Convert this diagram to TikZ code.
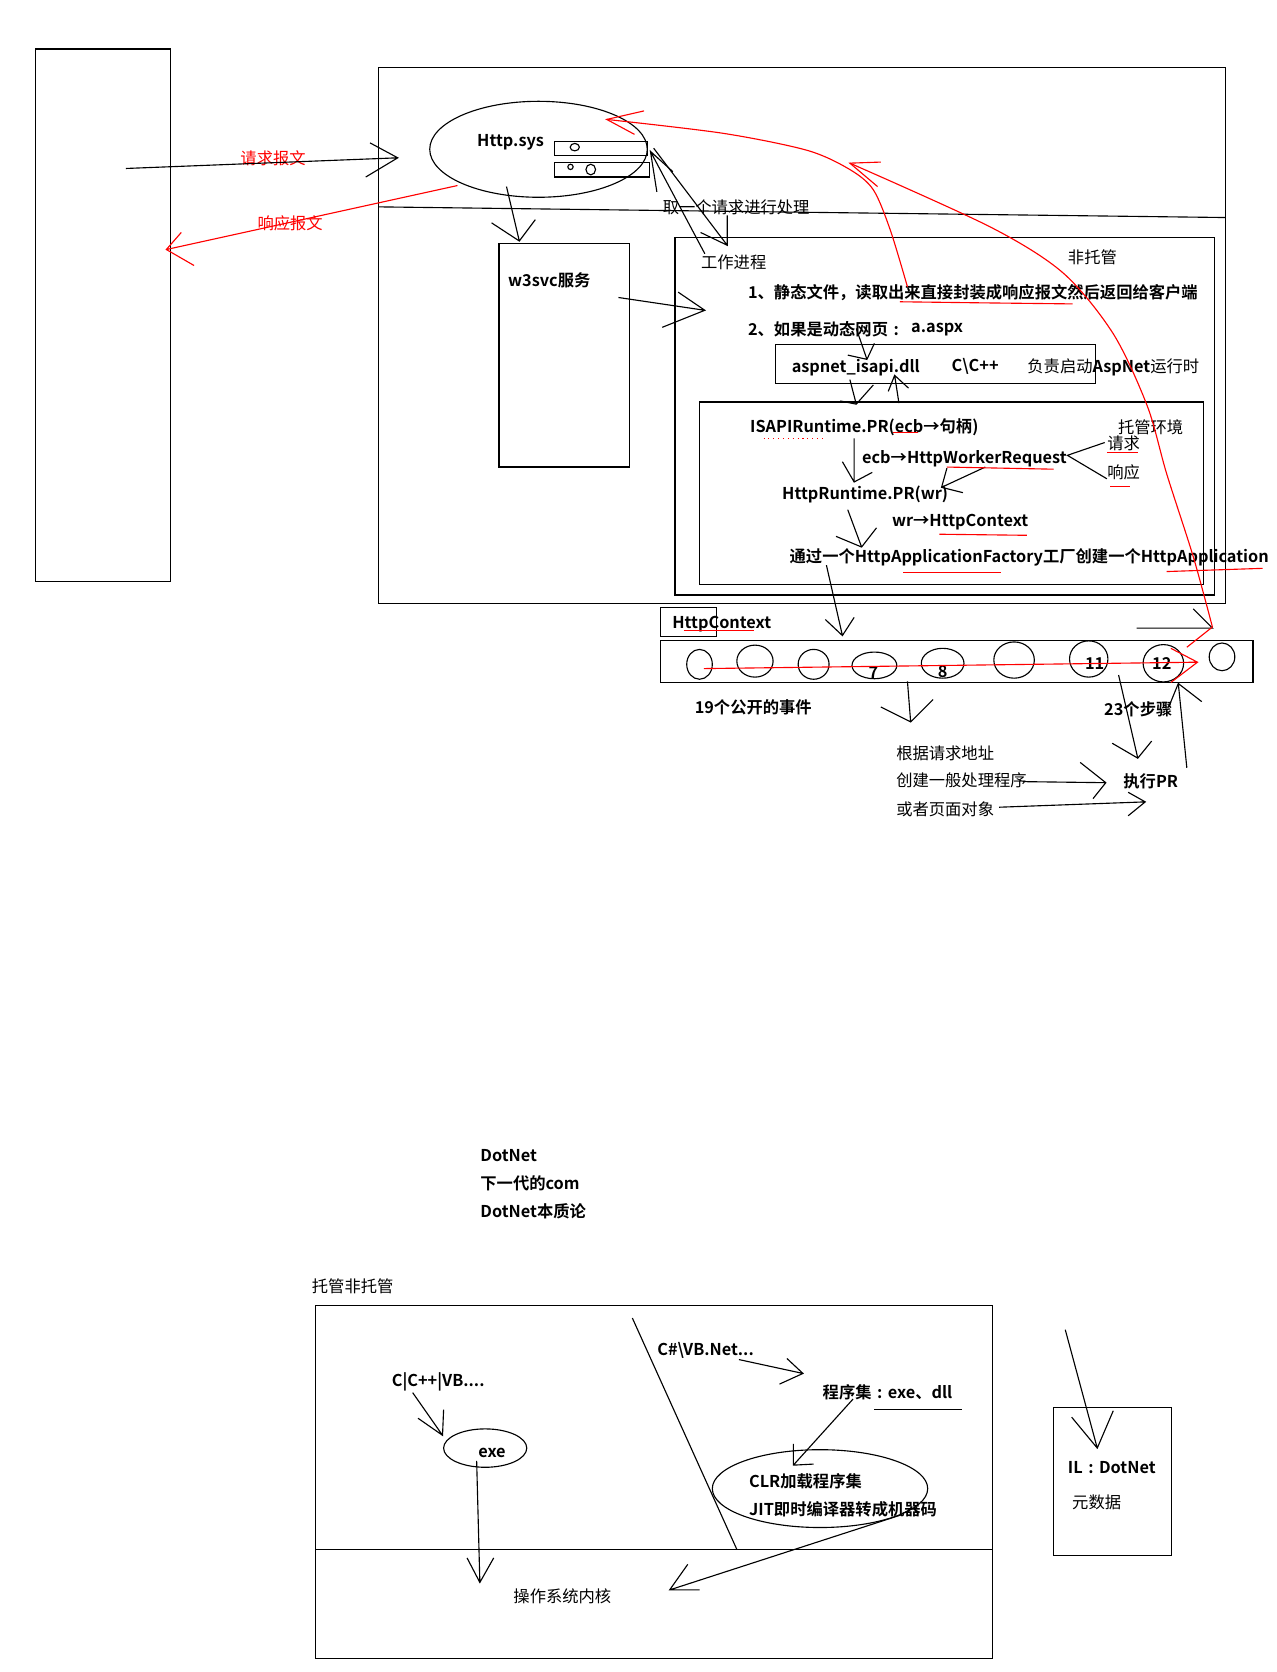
\documentclass[tikz,border=0pt]{standalone}
\usepackage{fontspec}
\setmainfont{Noto Sans CJK SC}[BoldFont={Noto Sans CJK SC Bold}]

\begin{document}
\begin{tikzpicture}[x=0.02cm,y=-0.02cm,line width=0.6pt]
\useasboundingbox (0,0) rectangle (1197,1568);

        % boxes of the request pipeline
        \draw (33,46) rectangle (160,545);
        \draw (355,63) rectangle (1149,566);
        \draw (355,194) -- (590,197) -- (1149,204);
        \draw (505,140) ellipse (102 and 45);
        \draw (520,133) rectangle (607,146);
        \draw (520,152) rectangle (609,166);
        \draw (539,138) ellipse (4.3 and 3.5);
        \draw (535,156.5) circle (2.5);
        \draw (554,159) ellipse (4.5 and 5);
        \draw (468,228) rectangle (590,438);
        \draw (633,223) rectangle (1139,558);
        \draw (727,323) rectangle (1027,360);
        \draw (656,377) rectangle (1129,548);
        \draw (619,570) rectangle (672,597);
        \draw (619,601) rectangle (1175,640);

        % the events
        \draw (656,623) ellipse (12 and 14);
        \draw (708,620) ellipse (17 and 15);
        \draw (763,623) ellipse (14.5 and 14);
        \draw (820,624) ellipse (21 and 12.5);
        \draw (884,622) ellipse (20 and 14);
        \draw (951,619) ellipse (19 and 17);
        \draw (1021,618) ellipse (18 and 17);
        \draw (1091,622) ellipse (19 and 17.5);
        \draw (1146,616) ellipse (12 and 13);

        \begin{scope}[every node/.style={inner sep=0pt,anchor=west,font=\fontsize{8.7}{10}\selectfont\bfseries}]
          \node (httpsys)  at (447,133)  {Http.sys};
          \node (w3svc)    at (476,263)  {w3svc服务};
          \node (static)   at (701,274)  {1、静态文件，读取出来直接封装成响应报文然后返回给客户端};
          \node (dynamic)  at (701,309)  {2、如果是动态网页\makebox[1em]{:}};
          \node (aspx)     at (854,309)  {a.aspx};
          \node (isapidll) at (742,345)  {aspnet\_isapi.dll};
          \node (cpp)      at (892,344)  {C\textbackslash C++};
          \node (startrt)  at (963,345)  {\mdseries 负责启动\bfseries AspNet\mdseries 运行时};
          \node (isapirt)  at (703,401)  {ISAPIRuntime.PR(ecb→句柄)};
          \node (wreq)     at (808,430)  {ecb→HttpWorkerRequest};
          \node (httprt)   at (733,464)  {HttpRuntime.PR(wr)};
          \node (wrctx)    at (836,490)  {wr→HttpContext};
          \node (factory)  at (740,523)  {通过一个HttpApplicationFactory工厂创建一个HttpApplication};
          \node (ctx)      at (630,585)  {HttpContext};
          \node (seven)    at (814,631)  {7};
          \node (eight)    at (879,630)  {8};
          \node (eleven)   at (1017,622) {11};
          \node (twelve)   at (1080,622) {12};
          \node (events)   at (651,663)  {19个公开的事件};
          \node (steps)    at (1035,665) {23个步骤};
          \node (exec)     at (1053,733) {执行PR};
          \node (dn1)      at (450,1084) {DotNet};
          \node (dn2)      at (450,1110) {下一代的com};
          \node (dn3)      at (450,1136) {DotNet本质论};
          \node (clang)    at (367,1296) {C|C++|VB....};
          \node (exe)      at (448,1363) {exe};
          \node (csharp)   at (616,1266) {C\#\textbackslash VB.Net...};
          \node (asm)      at (771,1306) {程序集\makebox[1em]{:}exe、dll};
          \node (clrload)  at (702,1389) {CLR加载程序集};
          \node (jit)      at (702,1415) {JIT即时编译器转成机器码};
          \node (il)       at (1001,1376) {IL\makebox[1em]{:}DotNet};
        \end{scope}

        \begin{scope}[every node/.style={inner sep=0pt,anchor=west,font=\fontsize{8.7}{10}\selectfont}]
          \node (take)    at (621,194)  {取一个请求进行处理};
          \node (work)    at (657,246)  {工作进程};
          \node (unman)   at (1001,241) {非托管};
          \node (manenv)  at (1048,401) {托管环境};
          \node (reqw)    at (1038,416) {请求};
          \node (respw)   at (1038,443) {响应};
          \node (addr)    at (840,706)  {根据请求地址};
          \node (handler) at (840,732)  {创建一般处理程序};
          \node (page)    at (840,759)  {或者页面对象};
          \node (mgd)     at (292,1206) {托管非托管};
          \node (os)      at (481,1497) {操作系统内核};
          \node (meta)    at (1005,1409) {元数据};
          \node[text=red] (reqmsg)  at (225,148) {请求报文};
          \node[text=red] (respmsg) at (241,209) {响应报文};
        \end{scope}

        % hand drawn arrows
        \coordinate (a1) at (118,158);   \coordinate (h1) at (373,148);
        \coordinate (a3) at (475,175);   \coordinate (h3) at (487,226);
        \coordinate (a4) at (613,139);   \coordinate (h4) at (682,230);
        \coordinate (a5) at (661,238);   \coordinate (h5) at (610,142);
        \coordinate (a6) at (580,279);   \coordinate (h6) at (661,291);
        \coordinate (a7) at (803,308);   \coordinate (h7) at (813,337);
        \coordinate (a8) at (797,356);   \coordinate (h8) at (803,379);
        \coordinate (a9) at (843,378);   \coordinate (h9) at (839,352);
        \coordinate (a10) at (801,411);  \coordinate (h10) at (801,452);
        \coordinate (a11) at (924,438);  \coordinate (h11) at (883,457);
        \coordinate (a12) at (795,478);  \coordinate (h12) at (808,513);
        \coordinate (a13) at (775,530);  \coordinate (h13) at (790,596);
        \coordinate (a14) at (851,639);  \coordinate (h14) at (854,677);
        \coordinate (a15) at (1049,633); \coordinate (h15) at (1067,711);
        \coordinate (a16) at (1113,720); \coordinate (h16) at (1105,641);
        \coordinate (a17) at (959,733);  \coordinate (h17) at (1037,734);
        \coordinate (a18) at (937,757);  \coordinate (h18) at (1074,752);
        \coordinate (a19) at (1066,589); \coordinate (h19) at (1137,589);
        \coordinate (a20) at (387,1306); \coordinate (h20) at (415,1346);
        \coordinate (a21) at (447,1370); \coordinate (h21) at (450,1484);
        \coordinate (a22) at (693,1275); \coordinate (h22) at (753,1288);
        \coordinate (a23) at (800,1312); \coordinate (h23) at (744,1374);
        \coordinate (a24) at (844,1421); \coordinate (h24) at (628,1491);
        \coordinate (a25) at (999,1247); \coordinate (h25) at (1029,1358);
        \coordinate (fork) at (1001,427);
        \coordinate (forkup) at (1036,415);
        \coordinate (forkdown) at (1038,449);

        \draw (a1) -- (h1) ++(-26,-14) -- (h1) -- ++(-30,18);
        \draw (a3) -- (h3) ++(-26,-17) -- (h3) -- ++(15,-20);
        \draw (a4) -- (h4) ++(0,-28) -- (h4) -- ++(-25,-12);
        \draw (a5) -- (h5) ++(6,38) -- (h5) -- ++(21,19);
        \draw (a6) -- (h6) ++(-25,-17) -- (h6) -- ++(-40,16);
        \draw (a7) -- (h7) ++(-18,-4) -- (h7) -- ++(7,-15);
        \draw (a8) -- (h8) ++(-15,-3) -- (h8) -- ++(16,-18);
        \draw (a9) -- (h9) ++(-6,15) -- (h9) -- ++(13,12);
        \draw (a10) -- (h10) ++(-11,-19) -- (h10) -- ++(17,-9);
        \draw (a11) -- (h11) ++(5,-18) -- (h11) -- ++(20,5);
        \draw (a12) -- (h12) ++(-24,-10) -- (h12) -- ++(14,-18);
        \draw (a13) -- (h13) ++(-16,-15) -- (h13) -- ++(11,-17);
        \draw (a14) -- (h14) ++(-28,-14) -- (h14) -- ++(21,-21);
        \draw (a15) -- (h15) ++(-24,-14) -- (h15) -- ++(13,-16);
        \draw (a16) -- (h16) ++(-9,22) -- (h16) -- ++(22,17);
        \draw (a17) -- (h17) ++(-24,-19) -- (h17) -- ++(-12,15);
        \draw (a18) -- (h18) ++(-16,-9) -- (h18) -- ++(-16,13);
        \draw (a19) -- (h19) -- ++(-18,-18);
        \draw (a20) -- (h20) ++(-23,-16) -- (h20) -- ++(1,-24);
        \draw (a21) -- (h21) ++(-12,-23) -- (h21) -- ++(13,-23);
        \draw (a22) -- (h22) ++(-15,-14) -- (h22) -- ++(-22,10);
        \draw (a23) -- (h23) ++(0,-20) -- (h23) -- ++(19,-1);
        \draw (a24) -- (h24) ++(17,-24) -- (h24) -- ++(28,0);
        \draw (a25) -- (h25) ++(-24,-29) -- (h25) -- ++(15,-35);
        \draw (forkup) -- (fork) -- (forkdown);

        % lower part
        \draw (296,1224) rectangle (931,1555);
        \draw (296,1453) -- (931,1453);
        \draw (593,1236) -- (691,1453);
        \draw (455,1358) ellipse (39 and 18);
        \draw (769,1396) ellipse (101 and 36.5);
        \draw (820,1322) -- (902,1322);
        \draw (988,1320) rectangle (1099,1459);

        % red marks
        \begin{scope}[red]
          \coordinate (r2) at (429,174); \coordinate (s2) at (156,234);
          \draw (r2) -- (s2) ++(14,-16) -- (s2) -- ++(26,15);
          \draw plot[smooth] coordinates {(851,269) (835,216) (819,178) (797,159) (757,141) (678,125) (569,112)};
          \draw (569,112) ++(26,14) -- (569,112) -- ++(35,-8);
          \draw (1113,607) -- (1137,588);
          \draw plot[smooth] coordinates {(1137,588) (1119,522) (1094,444) (1076,381) (1044,313) (997,256) (929,213) (797,153)};
          \draw (797,153) ++(29,-1) -- (797,153) -- ++(26,22);
          \coordinate (r3) at (660,627); \coordinate (s3) at (1123,621);
          \draw (r3) -- (s3) ++(-25,-13) -- (s3) -- ++(-25,19);
          \draw (844,283) -- (920,284) -- (1006,285);
          \draw[dotted] (716,411) -- (772,411);
          \draw (837,406) -- (861,406);
          \draw (888,438) -- (988,440);
          \draw (1038,424) -- (1067,424);
          \draw (1041,456) -- (1060,456);
          \draw (881,501) -- (963,502);
          \draw (847,537) -- (939,537);
          \draw (1094,536) -- (1184,533);
          \draw (641,591) -- (707,591);
        \end{scope}

\end{tikzpicture}
\end{document}
